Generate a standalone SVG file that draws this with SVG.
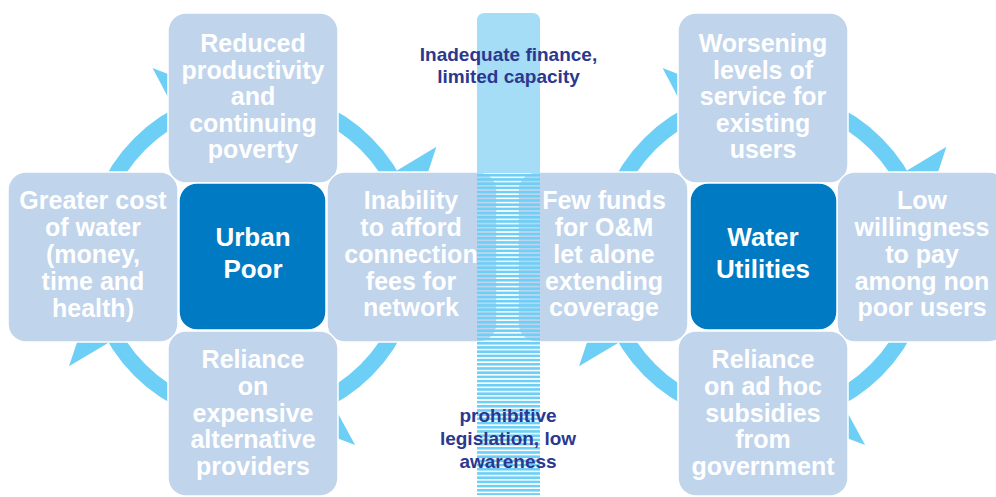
<svg xmlns="http://www.w3.org/2000/svg" width="996" height="497" viewBox="0 0 996 497">
  <defs>
    <style>
      .ring { fill: none; stroke: #6dcff6; stroke-width: 16; }
      .head { fill: #6dcff6; }
      .lbox { fill: #c0d4ec; stroke: #ffffff; stroke-width: 1.5; }
      .dbox { fill: #007bc3; stroke: #ffffff; stroke-width: 1.5; }
      .lt { font-family: "Liberation Sans", Arial, sans-serif; font-weight: bold; font-size: 25px; fill: #ffffff; text-anchor: middle; }
      .dt { font-family: "Liberation Sans", Arial, sans-serif; font-weight: bold; font-size: 26px; fill: #ffffff; text-anchor: middle; }
      .nt { font-family: "Liberation Sans", Arial, sans-serif; font-weight: bold; font-size: 19px; fill: #2b388f; text-anchor: middle; }
    </style>
    <polygon id="arrowhead" class="head" points="214,0 106,0 150.4,54.7"/>
    <pattern id="stripes" patternUnits="userSpaceOnUse" x="0" y="174" width="63" height="4.2">
      <rect x="0" y="0" width="63" height="2.6" fill="#6dcff6"/>
    </pattern>
  </defs>
  <rect width="996" height="497" fill="#ffffff"/>

  <g id="connectors">
    <g id="cycle-left">
      <circle class="ring" cx="253" cy="257" r="160"/>
      <use href="#arrowhead" transform="translate(253,257) rotate(242)"/>
      <use href="#arrowhead" transform="translate(253,257) rotate(329)"/>
      <use href="#arrowhead" transform="translate(253,257) rotate(61.5)"/>
      <use href="#arrowhead" transform="translate(253,257) rotate(149.3)"/>
    </g>
    <g id="cycle-right">
      <circle class="ring" cx="763" cy="257" r="160"/>
      <use href="#arrowhead" transform="translate(763,257) rotate(242)"/>
      <use href="#arrowhead" transform="translate(763,257) rotate(329)"/>
      <use href="#arrowhead" transform="translate(763,257) rotate(61.5)"/>
      <use href="#arrowhead" transform="translate(763,257) rotate(149.3)"/>
    </g>
  </g>

  <g id="reduced-productivity">
    <rect class="lbox" x="168" y="13" width="170" height="170" rx="18"/>
    <text class="lt" x="253" y="52">Reduced</text>
    <text class="lt" x="253" y="79">productivity</text>
    <text class="lt" x="253" y="105">and</text>
    <text class="lt" x="253" y="132">continuing</text>
    <text class="lt" x="253" y="158">poverty</text>
  </g>
  <g id="greater-cost">
    <rect class="lbox" x="8" y="172" width="170" height="170" rx="18"/>
    <text class="lt" x="93" y="209">Greater cost</text>
    <text class="lt" x="93" y="236">of water</text>
    <text class="lt" x="93" y="263">(money,</text>
    <text class="lt" x="93" y="290">time and</text>
    <text class="lt" x="93" y="317">health)</text>
  </g>
  <g id="inability">
    <rect class="lbox" x="327" y="172" width="170" height="170" rx="18"/>
    <text class="lt" x="411" y="209">Inability</text>
    <text class="lt" x="411" y="236">to afford</text>
    <text class="lt" x="411" y="263">connection</text>
    <text class="lt" x="411" y="290">fees for</text>
    <text class="lt" x="411" y="316">network</text>
  </g>
  <g id="reliance-expensive">
    <rect class="lbox" x="168" y="331" width="170" height="165" rx="18"/>
    <text class="lt" x="253" y="368">Reliance</text>
    <text class="lt" x="253" y="395">on</text>
    <text class="lt" x="253" y="422">expensive</text>
    <text class="lt" x="253" y="448">alternative</text>
    <text class="lt" x="253" y="475">providers</text>
  </g>
  <g id="urban-poor">
    <rect class="dbox" x="179" y="183" width="147" height="147" rx="18"/>
    <text class="dt" x="253" y="246">Urban</text>
    <text class="dt" x="253" y="278">Poor</text>
  </g>

  <g id="worsening">
    <rect class="lbox" x="678" y="13" width="170" height="170" rx="18"/>
    <text class="lt" x="763" y="52">Worsening</text>
    <text class="lt" x="763" y="79">levels of</text>
    <text class="lt" x="763" y="105">service for</text>
    <text class="lt" x="763" y="132">existing</text>
    <text class="lt" x="763" y="158">users</text>
  </g>
  <g id="few-funds">
    <rect class="lbox" x="518" y="172" width="170" height="170" rx="18"/>
    <text class="lt" x="604" y="209">Few funds</text>
    <text class="lt" x="604" y="236">for O&amp;M</text>
    <text class="lt" x="604" y="263">let alone</text>
    <text class="lt" x="604" y="290">extending</text>
    <text class="lt" x="604" y="316">coverage</text>
  </g>
  <g id="low-willingness">
    <rect class="lbox" x="837" y="172" width="170" height="170" rx="18"/>
    <text class="lt" x="922" y="209">Low</text>
    <text class="lt" x="922" y="236">willingness</text>
    <text class="lt" x="922" y="263">to pay</text>
    <text class="lt" x="922" y="290">among non</text>
    <text class="lt" x="922" y="316">poor users</text>
  </g>
  <g id="reliance-subsidies">
    <rect class="lbox" x="678" y="331" width="170" height="165" rx="18"/>
    <text class="lt" x="763" y="368">Reliance</text>
    <text class="lt" x="763" y="395">on ad hoc</text>
    <text class="lt" x="763" y="422">subsidies</text>
    <text class="lt" x="763" y="448">from</text>
    <text class="lt" x="763" y="475">government</text>
  </g>
  <g id="water-utilities">
    <rect class="dbox" x="690" y="183" width="147" height="147" rx="18"/>
    <text class="dt" x="763" y="246">Water</text>
    <text class="dt" x="763" y="278">Utilities</text>
  </g>

  <g id="barrier">
    <path d="M477,173 V21 Q477,13 485,13 H532 Q540,13 540,21 V173 Z" fill="#a5dcf6"/>
    <rect x="477" y="174" width="63" height="321" fill="url(#stripes)"/>
    <text class="nt" x="508.5" y="61">Inadequate finance,</text>
    <text class="nt" x="508.5" y="83">limited capacity</text>
    <text class="nt" x="508" y="422">prohibitive</text>
    <text class="nt" x="508" y="445">legislation, low</text>
    <text class="nt" x="508" y="468">awareness</text>
  </g>
</svg>
